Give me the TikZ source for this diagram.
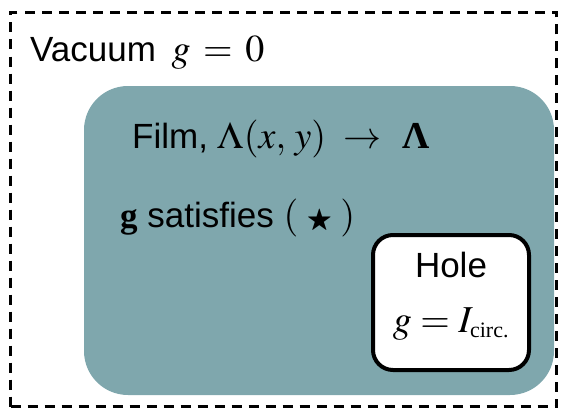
\documentclass[tikz,border=0pt]{standalone}
\usepackage{graphicx}
\usepackage{mathptmx}
\usepackage{amssymb}
\usepackage[no-math]{fontspec}
\setmainfont{Liberation Serif}
\setsansfont{Liberation Sans}
\usetikzlibrary{positioning}
\definecolor{filmteal}{RGB}{127,167,173}
\definecolor{edgeblack}{RGB}{0,0,0}
\newcommand{\bigmath}[1]{{\fontsize{38}{44}\selectfont$#1$}}

\begin{document}
\begin{tikzpicture}[x=1pt, y=-1pt,
    vacbox/.style={
      rectangle, draw=edgeblack, line width=3pt, dash pattern=on 10pt off 7pt,
      minimum width=546pt, minimum height=394pt, inner sep=0pt
    },
    filmbox/.style={
      rectangle, rounded corners=44pt, fill=filmteal,
      minimum width=470pt, minimum height=309pt, inner sep=0pt
    },
    holebox/.style={
      rectangle, rounded corners=20pt, draw=edgeblack, fill=white, line width=4pt,
      minimum width=156pt, minimum height=135pt, inner sep=0pt
    },
    lbl/.style={font=\fontsize{35}{42}\selectfont\sffamily, inner sep=0pt, anchor=base west},
    holelbl/.style={lbl, anchor=base}
]
  \useasboundingbox (0,0) rectangle (562,412);

  % Regions
  \node[vacbox]  (vacuum) at (283.5,209.5) {};
  \node[filmbox] (film)   at (319,240.5)   {};
  \node[holebox] (hole)   at (451,302.5)   {};

  % Labels
  \node[lbl] (vaclabel)  at (30,62)   {Vacuum~\,\bigmath{g \,=\, 0}};
  \node[lbl] (filmlabel) at (132,148) {Film, \bigmath{\Lambda(x,\,y) \;\rightarrow\;\, \mbox{\rmfamily\bfseries Λ}}};
  \node[lbl] (eqlabel)   at (120,227) {{\rmfamily\bfseries g} satisfies \bigmath{(\;\scalebox{0.7}{$\bigstar$}\;)}};

  \node[holelbl] (holelabel) at (451,277) {Hole};
  \node[holelbl] (circlabel) at (451,332)
    {\bigmath{g = I_{\mbox{\fontsize{22}{24}\selectfont\rmfamily circ.}}}};
\end{tikzpicture}
\end{document}
